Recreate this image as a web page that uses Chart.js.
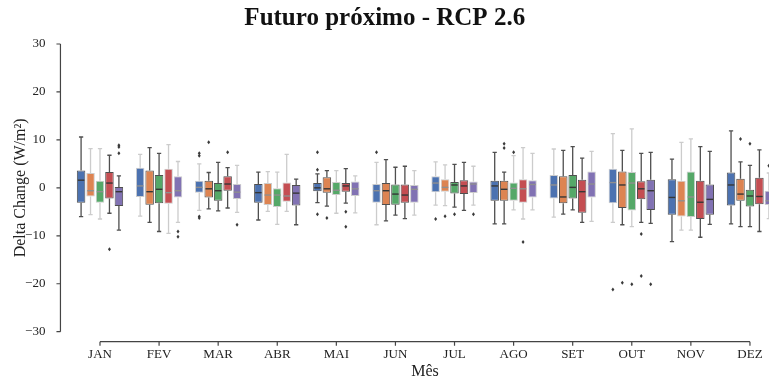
<!DOCTYPE html>
<html lang="pt">
<head>
    <meta charset="UTF-8">
    <title>Futuro próximo - RCP 2.6</title>
    <script src="https://cdn.jsdelivr.net/npm/chart.js"></script>
    <style>
        body {
    margin: 0;
    background-color: #ffffff;
    overflow: hidden;
}

.chart-container {
    width: 769px;
    height: 382px;
    overflow: hidden; /* last box group runs past the right edge, as in the original */
}

canvas {
    display: block;
}
    </style>
</head>
<body>
    <div class="chart-container">
        <canvas id="boxChart" width="790" height="382"></canvas>
    </div>

    <script>
        // months on the x axis
        const months = ['JAN', 'FEV', 'MAR', 'ABR', 'MAI', 'JUN', 'JUL', 'AGO', 'SET', 'OUT', 'NOV', 'DEZ'];
        const seriesNames = ['Modelo 1', 'Modelo 2', 'Modelo 3', 'Modelo 4', 'Modelo 5'];
        const yTicks = [-30, -20, -10, 0, 10, 20, 30];
        const yTickLabels = ['\u221230', '\u221220', '\u221210', '0', '10', '20', '30'];

        // box statistics, one row per series (W/m²)
        const whiskerLow = [
            [-6.0, -5.9, -4.7, -6.7, -3.1, -7.7, -3.6, -7.5, -6.1, -7.2, -11.2, -7.5],
            [-5.6, -7.2, -4.4, -4.9, -3.8, -6.9, -3.7, -7.5, -5.5, -7.7, -8.8, -8.1],
            [-6.5, -9.1, -4.8, -7.6, -5.3, -5.7, -4.0, -4.6, -4.6, -8.1, -8.8, -8.1],
            [-5.3, -9.5, -4.2, -4.9, -3.2, -6.4, -4.7, -6.5, -7.2, -7.2, -10.3, -9.1],
            [-8.8, -7.2, -5.1, -7.7, -5.2, -5.7, -3.6, -4.6, -7.0, -7.4, -7.6, -6.4]
        ];
        const q1 = [
            [-3.1, -1.9, -1.0, -3.1, -0.7, -3.1, -0.9, -2.7, -2.2, -3.2, -5.6, -3.7],
            [-1.8, -3.5, -2.0, -3.6, -1.0, -3.6, -0.8, -2.7, -3.2, -4.2, -6.0, -2.7],
            [-3.1, -3.2, -2.7, -4.0, -1.5, -3.5, -1.2, -2.7, -2.2, -4.7, -6.1, -3.9],
            [-2.2, -3.3, -0.6, -2.9, -0.8, -3.1, -1.3, -3.1, -5.2, -2.4, -6.5, -3.4],
            [-3.8, -2.0, -2.3, -3.7, -1.7, -3.1, -1.1, -2.0, -2.0, -4.6, -5.6, -3.6]
        ];
        const median = [
            [1.6, 0.4, 0.1, -1.0, 0.0, -0.6, 1.0, 0.4, 0.6, 1.1, -2.0, 0.6],
            [-0.6, -0.8, -0.2, -1.5, -0.2, -0.6, 0.1, -0.3, -1.9, 0.6, -2.7, -1.3],
            [-0.8, -0.3, -0.6, -1.5, -0.5, -1.3, 0.6, -0.1, 0.1, 1.0, -1.9, -1.7],
            [1.0, -1.0, 0.8, -1.7, 0.4, -1.5, 0.4, -0.2, -0.8, -0.2, -3.0, -1.8],
            [-0.8, -0.6, -0.9, -1.1, -0.2, -0.3, 0.8, 0.7, 0.8, -0.6, -2.4, -2.7]
        ];
        const q3 = [
            [3.6, 4.2, 1.5, 0.8, 1.0, 0.8, 2.4, 1.5, 2.7, 4.0, 1.8, 3.2],
            [3.1, 3.6, 1.5, 1.0, 2.2, 1.0, 1.8, 1.5, 2.4, 3.4, 1.5, 1.9],
            [1.5, 2.7, 1.0, -0.1, 1.2, 0.7, 1.2, 1.1, 2.7, 3.3, 3.4, -0.4],
            [3.3, 4.0, 2.4, 1.1, 1.0, 0.7, 1.6, 1.8, 1.7, 1.4, 1.5, 2.1],
            [0.2, 2.4, 0.8, 0.6, 1.3, 0.6, 1.3, 1.6, 3.4, 1.7, 0.7, -0.6]
        ];
        const whiskerHigh = [
            [10.6, 7.0, 5.0, 3.3, 2.9, 5.3, 5.4, 7.4, 8.1, 11.3, 6.0, 11.9],
            [8.2, 8.4, 3.2, 3.4, 3.6, 5.9, 4.8, 3.3, 7.8, 7.8, 9.5, 5.4],
            [8.2, 7.2, 5.3, 3.3, 3.6, 4.3, 4.9, 6.7, 8.6, 12.3, 10.2, 4.7],
            [6.8, 9.0, 4.2, 7.0, 4.0, 4.5, 5.3, 8.4, 6.2, 7.2, 8.6, 7.9],
            [2.5, 5.5, 4.7, 1.8, 2.5, 3.6, 4.5, 7.2, 7.6, 7.4, 7.6, 3.1]
        ];
        // outliers per series and month
        const outliers = [
            [[], [], [7.2, 6.7, -6.0, -6.3], [], [7.4, 3.8, -5.5], [7.4], [-6.5], [], [], [-21.2], [], []],
            [[], [], [9.5], [], [-6.3], [], [-5.9], [9.2, 8.3], [], [-19.8], [], [10.2]],
            [[], [], [], [], [], [], [-5.5], [7.4], [], [-20.1], [], [9.2]],
            [[-12.8], [], [7.4], [], [-5.0, -8.1], [], [], [-11.3], [], [-9.6, -18.4], [], []],
            [[8.9, 8.5, 7.2], [-9.1, -10.2], [-7.7], [], [], [], [-5.5], [], [], [-20.1], [], [4.6]]
        ];

        // styling
        const boxColors = ['#4c72b0', '#dd8452', '#55a868', '#c44e52', '#8172b3'];
        // 1 = dark grey lines, 0 = pale grey lines (as the lines appear in the original)
        const lineShade = [
            [1, 0, 0, 1, 1, 0, 0, 1, 0, 0, 1, 1],
            [0, 1, 1, 0, 1, 1, 0, 1, 1, 1, 0, 1],
            [0, 1, 1, 0, 0, 1, 1, 0, 1, 0, 0, 1],
            [1, 0, 1, 0, 1, 1, 1, 0, 1, 1, 1, 1],
            [1, 0, 0, 1, 0, 0, 0, 0, 0, 1, 1, 0]
        ];
        const darkLine = '#4f4f4f';
        const lightLine = '#cccccc';
        const serif = "'Liberation Serif', 'Times New Roman', serif";
        const axisColor = '#444444';

        function shadeColor(s, i) {
            return lineShade[s][i] ? darkLine : lightLine;
        }

        // whiskers, medians, outliers and the trimmed seaborn-style axes
        const boxPlotPlugin = {
            id: 'boxPlot',
            beforeDatasetsDraw(chart) {
                const ctx = chart.ctx;
                const y = chart.scales.y;
                ctx.save();
                ctx.lineWidth = 1.3;
                chart.data.datasets.forEach((ds, s) => {
                    chart.getDatasetMeta(s).data.forEach((bar, i) => {
                        const cap = bar.width * 0.25;
                        const hi = y.getPixelForValue(whiskerHigh[s][i]);
                        const lo = y.getPixelForValue(whiskerLow[s][i]);
                        ctx.strokeStyle = shadeColor(s, i);
                        ctx.beginPath();
                        ctx.moveTo(bar.x, hi);
                        ctx.lineTo(bar.x, y.getPixelForValue(q3[s][i]));
                        ctx.moveTo(bar.x, y.getPixelForValue(q1[s][i]));
                        ctx.lineTo(bar.x, lo);
                        ctx.moveTo(bar.x - cap, hi);
                        ctx.lineTo(bar.x + cap, hi);
                        ctx.moveTo(bar.x - cap, lo);
                        ctx.lineTo(bar.x + cap, lo);
                        ctx.stroke();
                    });
                });
                ctx.restore();
            },
            afterDatasetsDraw(chart) {
                const ctx = chart.ctx;
                const x = chart.scales.x;
                const y = chart.scales.y;
                const area = chart.chartArea;
                ctx.save();
                chart.data.datasets.forEach((ds, s) => {
                    chart.getDatasetMeta(s).data.forEach((bar, i) => {
                        const half = bar.width / 2;
                        const m = y.getPixelForValue(median[s][i]);
                        ctx.strokeStyle = lineShade[s][i] ? '#363636' : '#8f8f8f';
                        ctx.lineWidth = 1.4;
                        ctx.beginPath();
                        ctx.moveTo(bar.x - half + 1, m);
                        ctx.lineTo(bar.x + half - 1, m);
                        ctx.stroke();
                        ctx.fillStyle = '#3a3a3a';
                        outliers[s][i].forEach(v => {
                            const py = y.getPixelForValue(v);
                            ctx.beginPath();
                            ctx.moveTo(bar.x, py - 2);
                            ctx.lineTo(bar.x + 1.5, py);
                            ctx.lineTo(bar.x, py + 2);
                            ctx.lineTo(bar.x - 1.5, py);
                            ctx.closePath();
                            ctx.fill();
                        });
                    });
                });

                // y axis, offset 10px to the left and trimmed to the ticks
                ctx.strokeStyle = axisColor;
                ctx.lineWidth = 1.2;
                const ax = area.left - 10;
                ctx.beginPath();
                ctx.moveTo(ax, y.getPixelForValue(yTicks[yTicks.length - 1]));
                ctx.lineTo(ax, y.getPixelForValue(yTicks[0]));
                yTicks.forEach(v => {
                    const py = y.getPixelForValue(v);
                    ctx.moveTo(ax - 4, py);
                    ctx.lineTo(ax, py);
                });
                // x axis, offset 10px down and trimmed to the first/last month
                const ay = area.bottom + 10;
                ctx.moveTo(x.getPixelForValue(0), ay);
                ctx.lineTo(x.getPixelForValue(months.length - 1), ay);
                months.forEach((m, i) => {
                    const px = x.getPixelForValue(i);
                    ctx.moveTo(px, ay);
                    ctx.lineTo(px, ay + 4);
                });
                ctx.stroke();
                ctx.restore();
            }
        };

        const ctx = document.getElementById('boxChart').getContext('2d');
        const boxChart = new Chart(ctx, {
            type: 'bar',
            data: {
                labels: months,
                datasets: seriesNames.map((name, s) => ({
                    label: name,
                    data: months.map((m, i) => [q1[s][i], q3[s][i]]),
                    backgroundColor: boxColors[s],
                    borderColor: c => shadeColor(s, c.dataIndex),
                    borderWidth: 1,
                    borderSkipped: false,
                    categoryPercentage: 0.8,
                    barPercentage: 0.9
                }))
            },
            options: {
                responsive: false,
                animation: false,
                layout: {
                    // negative left padding keeps the figure title centred on the visible 769px
                    padding: { left: -10, right: 10.5, top: 0, bottom: 0 }
                },
                scales: {
                    x: {
                        type: 'category',
                        offset: true,
                        grid: { display: false },
                        border: { display: false },
                        ticks: {
                            color: '#222222',
                            padding: 7,
                            font: { family: serif, size: 13 }
                        },
                        title: {
                            display: true,
                            text: 'Mês',
                            color: '#222222',
                            padding: { top: 0, bottom: 1 },
                            font: { family: serif, size: 16 }
                        },
                        afterFit(scale) {
                            scale.height = 50.3;
                        }
                    },
                    y: {
                        min: -30,
                        max: 30,
                        grid: { display: false },
                        border: { display: false },
                        afterBuildTicks(scale) {
                            scale.ticks = yTicks.map(v => ({ value: v }));
                        },
                        ticks: {
                            color: '#222222',
                            padding: 17,
                            font: { family: serif, size: 13 },
                            callback: v => yTickLabels[yTicks.indexOf(v)]
                        },
                        title: {
                            display: true,
                            text: 'Delta Change (W/m²)',
                            color: '#222222',
                            padding: { top: 21, bottom: 0 },
                            font: { family: serif, size: 16 }
                        },
                        afterFit(scale) {
                            scale.width = 80.45;
                        }
                    }
                },
                plugins: {
                    legend: { display: false },
                    tooltip: { enabled: false },
                    title: {
                        display: true,
                        text: 'Futuro próximo - RCP 2.6',
                        color: '#111111',
                        padding: { top: 4, bottom: 10 },
                        font: { family: serif, size: 25, weight: 'bold' }
                    }
                }
            },
            plugins: [boxPlotPlugin]
        });
    </script>
</body>
</html>
